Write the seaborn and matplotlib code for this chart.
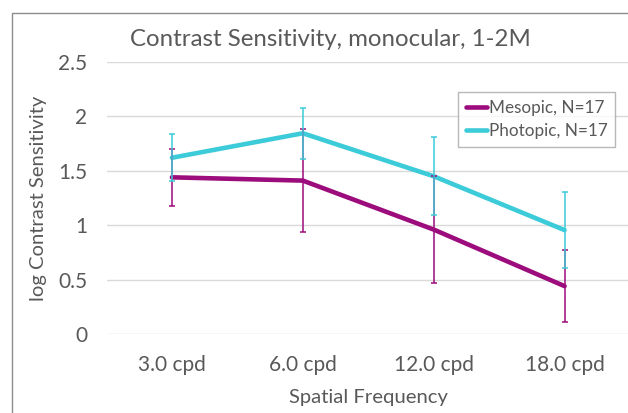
import pandas as pd
import matplotlib
matplotlib.use("Agg")
import matplotlib.pyplot as plt
import seaborn as sns
from matplotlib.patches import Rectangle

# data
freqs = ["3.0 cpd", "6.0 cpd", "12.0 cpd", "18.0 cpd"]
mesopic = [1.44, 1.41, 0.96, 0.44]
mesopic_err = [0.26, 0.47, 0.49, 0.33]
photopic = [1.62, 1.845, 1.45, 0.955]
photopic_err = [0.215, 0.235, 0.36, 0.35]
series_names = ["Mesopic, N=17", "Photopic, N=17"]

magenta = "#9c0c7c"
cyan = "#3ccbd8"
grey_txt = "#595959"

df = pd.DataFrame({
    "freq": freqs * 2,
    "val": mesopic + photopic,
    "err": mesopic_err + photopic_err,
    "series": [series_names[0]] * 4 + [series_names[1]] * 4,
})

sns.set_style("white")
plt.rcParams["font.family"] = ["Lato", "DejaVu Sans"]

fig = plt.figure(figsize=(6.28, 4.13), dpi=100)
ax = fig.add_axes([106.5 / 628, 1 - 334 / 413, (630 - 106.5) / 628, 272 / 413])

# outer frame of the chart object
fig.patches.append(Rectangle((12 / 628, -0.1), 1.2, 1 - 13 / 413 + 0.1,
                             transform=fig.transFigure, fill=False,
                             edgecolor="#8c8c8c", lw=1.0, zorder=0))

sns.lineplot(data=df, x="freq", y="val", hue="series",
             palette=[magenta, cyan], lw=3.3, ax=ax, sort=False, zorder=3)

for name, col in zip(series_names, [magenta, cyan]):
    sub = df[df.series == name]
    ax.errorbar(range(len(sub)), sub.val, yerr=sub.err, fmt="none",
                ecolor=col, elinewidth=1.1, capsize=2, capthick=1.1, zorder=4)

ax.set_xlim(-0.5, 3.5)
ax.set_ylim(0, 2.5)
ax.set_yticks([0, 0.5, 1, 1.5, 2, 2.5])
ax.set_yticklabels(["0", "0.5", "1", "1.5", "2", "2.5"])
ax.yaxis.grid(True, color="#d9d9d9", lw=1)
ax.set_axisbelow(True)
for s in ax.spines.values():
    s.set_visible(False)
ax.tick_params(length=0, labelsize=15, labelcolor=grey_txt)
ax.tick_params(axis="x", pad=15)
ax.tick_params(axis="y", pad=14)

ax.set_xlabel("Spatial Frequency", fontsize=14.6, color=grey_txt, labelpad=10)
ax.set_ylabel("log Contrast Sensitivity", fontsize=14.6, color=grey_txt, labelpad=8)
fig.text(330 / 628, 1 - 39 / 413, "Contrast Sensitivity, monocular, 1-2M",
         ha="center", va="center", fontsize=17.3, color=grey_txt)

leg = ax.legend(loc="upper left", bbox_to_anchor=(0.672, 0.89), frameon=True,
                fancybox=False, edgecolor="#a6a6a6", fontsize=12.3,
                handlelength=1.25, handletextpad=0.1, borderpad=0.45,
                labelspacing=0.45, borderaxespad=0)
leg.get_frame().set_linewidth(1)
for t in leg.get_texts():
    t.set_color(grey_txt)

fig.savefig("out.png", dpi=100)
